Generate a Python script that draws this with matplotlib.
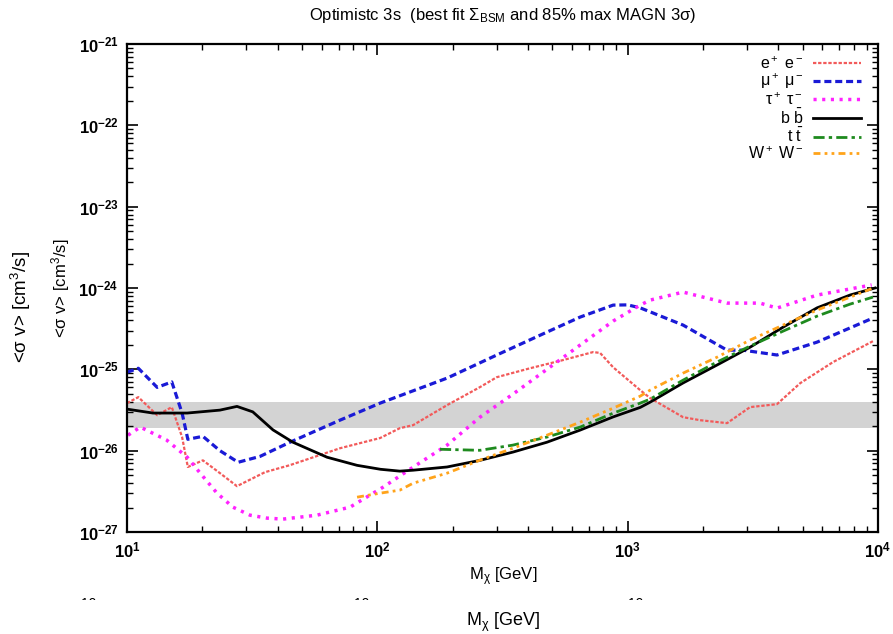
import matplotlib
matplotlib.use('Agg')
import matplotlib.pyplot as plt
from matplotlib.patches import Rectangle

plt.rcParams['font.family'] = ['Liberation Sans', 'DejaVu Sans']
plt.rcParams['mathtext.fontset'] = 'custom'
plt.rcParams['mathtext.rm'] = 'Liberation Sans'
plt.rcParams['mathtext.it'] = 'Liberation Sans:italic'
plt.rcParams['mathtext.default'] = 'regular'

# values (mass in GeV, <sigma v> in cm^3/s)
ee_m = [10, 11.1, 13.2, 15.1, 16.6, 17.5, 20.1, 23.5, 27.5, 35.6, 44.8, 70.9, 102.6, 123, 139,
        190, 257, 300, 407, 552, 728, 776, 875, 1122, 1230, 1665, 1945, 2495, 3083, 3950,
        4890, 6620, 9550]
ee_sv = [3.84e-26, 4.55e-26, 2.73e-26, 3.43e-26, 1.47e-26, 6.3e-27, 7.6e-27, 5.3e-27, 3.66e-27,
         5.44e-27, 6.64e-27, 1.07e-26, 1.43e-26, 1.89e-26, 2.06e-26, 3.63e-26, 6.04e-26, 8.0e-26,
         1.03e-25, 1.30e-25, 1.63e-25, 1.59e-25, 1.06e-25, 5.55e-26, 4.43e-26, 2.58e-26, 2.37e-26,
         2.18e-26, 3.43e-26, 3.73e-26, 6.76e-26, 1.23e-25, 2.22e-25]

mumu_m = [10, 11.1, 13.2, 15.1, 16.6, 17.5, 20.1, 23.5, 27.8, 34, 44.8, 70.9, 102.6, 190, 300,
          476, 646, 875, 1000, 1122, 1665, 2495, 2890, 3950, 5710, 9550]
mumu_sv = [9.2e-26, 1.03e-25, 6.0e-26, 7.0e-26, 2.9e-26, 1.38e-26, 1.5e-26, 1.0e-26, 7.2e-27,
           8.5e-27, 1.27e-26, 2.37e-26, 3.84e-26, 7.8e-26, 1.5e-25, 2.87e-25, 4.39e-25, 6.16e-25,
           6.2e-25, 5.7e-25, 3.5e-25, 1.72e-25, 1.72e-25, 1.5e-25, 2.16e-25, 4.27e-25]

tautau_m = [10.1, 11.3, 14.4, 17.4, 19.6, 22.9, 26.5, 31.0, 36.3, 42.0, 57.4, 77.8, 105.5, 139,
            190, 257, 348, 476, 646, 875, 1122, 1230, 1665, 2495, 3380, 3950, 5710, 9430]
tautau_sv = [1.55e-26, 1.95e-26, 1.35e-26, 8.3e-27, 5.3e-27, 3.0e-27, 2.02e-27, 1.61e-27, 1.48e-27,
             1.44e-27, 1.61e-27, 2.02e-27, 3.56e-27, 6.27e-27, 1.17e-26, 2.58e-26, 4.95e-26, 1.0e-25,
             1.99e-25, 3.92e-25, 6.16e-25, 7.1e-25, 8.9e-25, 6.52e-25, 6.52e-25, 5.66e-25, 8.18e-25,
             1.09e-24]

bb_m = [10, 12.7, 17.4, 23.5, 27.5, 31.8, 38.3, 46, 63, 83, 103, 123, 139, 190, 257, 348, 476,
        646, 875, 1122, 1230, 1665, 2275, 3083, 4178, 5710, 7740, 9730]
bb_sv = [3.24e-26, 2.9e-26, 2.9e-26, 3.15e-26, 3.5e-26, 3.0e-26, 1.8e-26, 1.27e-26, 8.3e-27,
         6.6e-27, 5.9e-27, 5.6e-27, 5.75e-27, 6.3e-27, 7.6e-27, 9.6e-27, 1.27e-26, 1.79e-26,
         2.6e-26, 3.4e-26, 3.95e-26, 6.8e-26, 1.13e-25, 1.87e-25, 3.3e-25, 5.7e-25, 8.2e-25, 1.0e-24]

tt_m = [178, 257, 348, 476, 646, 875, 1122, 1230, 1665, 2275, 3083, 4178, 5710, 7740, 9550]
tt_sv = [1.04e-26, 1.01e-26, 1.17e-26, 1.47e-26, 1.95e-26, 2.89e-26, 3.84e-26, 4.30e-26, 7.36e-26,
         1.23e-25, 1.93e-25, 2.95e-25, 4.51e-25, 6.34e-25, 7.73e-25]

ww_m = [83, 102.6, 123, 139, 190, 257, 348, 476, 646, 875, 1122, 1230, 1665, 2275, 3083, 4178,
        5710, 7740, 9550]
ww_sv = [2.68e-27, 3.0e-27, 3.27e-27, 3.98e-27, 5.29e-27, 7.64e-27, 1.07e-26, 1.55e-26, 2.24e-26,
         3.33e-26, 4.68e-26, 5.55e-26, 8.98e-26, 1.41e-25, 2.29e-25, 3.50e-25, 5.35e-25, 7.73e-25,
         9.97e-25]

band_lo = 1.9e-26
band_hi = 4.0e-26

fig = plt.figure(figsize=(8.93, 6.34), dpi=100)
ax = fig.add_axes([0.1422, 0.1609, 0.841, 0.7697])

ax.axhspan(band_lo, band_hi, color='#d3d3d3', lw=0, zorder=0)

ax.plot(ee_m, ee_sv, color='#f25a5a', lw=1.6, dashes=(1.5, 0.8), label=r'e$^+$ e$^-$')
ax.plot(mumu_m, mumu_sv, color='#1a1ad6', lw=2.3, dashes=(2.2, 1.2), label=r'$\mu^+$ $\mu^-$')
ax.plot(tautau_m, tautau_sv, color='#ff22ff', lw=2.5, dashes=(0.9, 1.6), label=r'$\tau^+$ $\tau^-$')
ax.plot(bb_m, bb_sv, color='black', lw=2.0, label=r'b $\bar{b}$')
ax.plot(tt_m, tt_sv, color='#1e8a1e', lw=2.0, dashes=(4, 1.5, 1.2, 1.5), label=r't $\bar{t}$')
ax.plot(ww_m, ww_sv, color='#ffa31a', lw=2.0, dashes=(2.5, 1.5, 1, 1.5, 1, 1.5), label=r'W$^+$ W$^-$')

ax.set_xscale('log')
ax.set_yscale('log')
ax.set_xlim(10, 1e4)
ax.set_ylim(1e-27, 1e-21)

ax.tick_params(which='both', direction='in', top=True, right=True, labelsize=12, pad=6)
ax.tick_params(which='major', length=8, width=1.2)
ax.tick_params(which='minor', length=4, width=1.0)
for lab in ax.get_xticklabels() + ax.get_yticklabels():
    lab.set_fontweight('bold')
for s in ax.spines.values():
    s.set_linewidth(1.6)

leg = ax.legend(loc='upper right', bbox_to_anchor=(0.992, 1.0), frameon=False, markerfirst=False,
                fontsize=11.5, handlelength=3.0, labelspacing=0.0, handletextpad=0.6, borderpad=0.2)

fig.text(0.563, 0.975, r'Optimistc 3s  (best fit $\Sigma_{BSM}$ and 85% max MAGN 3$\sigma$)',
         ha='center', va='center', fontsize=12)

# inner axis labels
fig.text(0.563, 0.09, r'M$_\chi$ [GeV]', ha='center', va='center', fontsize=12)
fig.text(0.068, 0.545, r'<$\sigma$ v> [cm$^3$/s]', ha='center', va='center', rotation=90, fontsize=12)

# outer axis labels (from the surrounding figure)
fig.text(0.563, 0.018, r'M$_\chi$ [GeV]', ha='center', va='center', fontsize=13)
fig.text(0.024, 0.515, r'<$\sigma$ v> [cm$^3$/s]', ha='center', va='center', rotation=90, fontsize=13.5)

# clipped tick labels of the outer figure, only their tops show
for xp in [0.099, 0.405, 0.712]:
    fig.text(xp, 0.0584, '10', ha='center', va='top', fontsize=10)
fig.add_artist(Rectangle((0.0, 0.0394), 1.0, 0.0142, transform=fig.transFigure,
                         facecolor='white', edgecolor='none', zorder=10))

fig.savefig('out.png', dpi=100)
